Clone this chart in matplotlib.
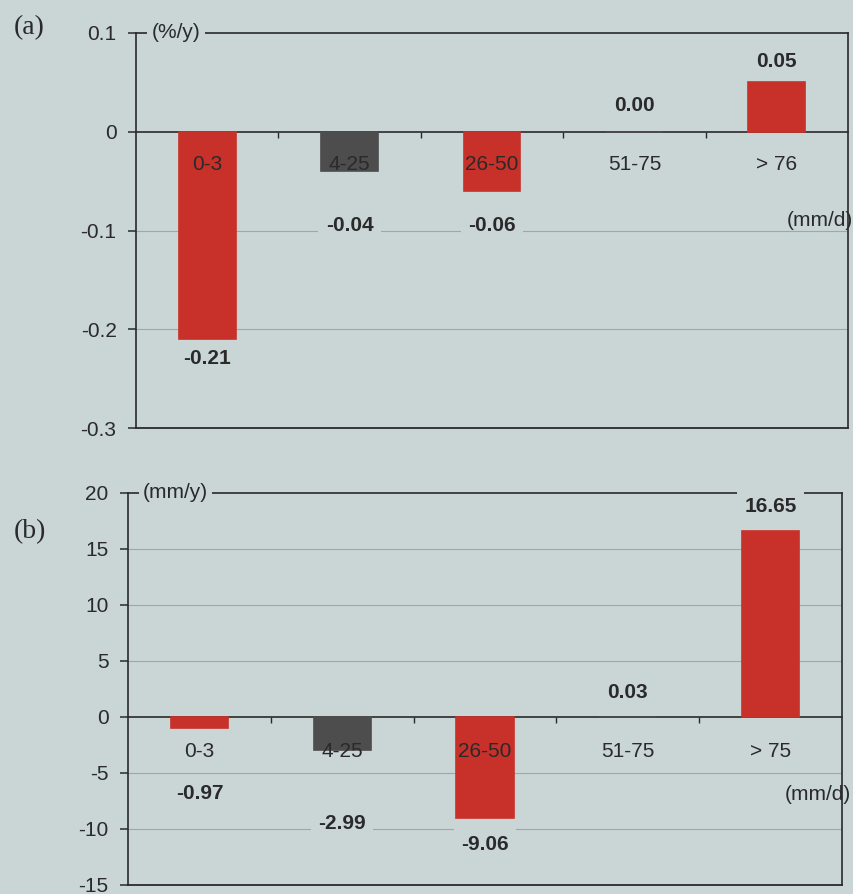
import matplotlib
matplotlib.use("Agg")
import matplotlib.pyplot as plt

# ---- data -------------------------------------------------------------
cats_a = ["0-3", "4-25", "26-50", "51-75", "> 76"]
vals_a = [-0.21, -0.04, -0.06, 0.00, 0.05]
ticks_a = [0.1, 0, -0.1, -0.2, -0.3]
tick_labels_a = ["0.1", "0", "-0.1", "-0.2", "-0.3"]

cats_b = ["0-3", "4-25", "26-50", "51-75", "> 75"]
vals_b = [-0.97, -2.99, -9.06, 0.03, 16.65]
ticks_b = [20, 15, 10, 5, 0, -5, -10, -15]
tick_labels_b = ["20", "15", "10", "5", "0", "-5", "-10", "-15"]

bar_kinds = ["red", "grey", "red", "grey", "red"]

# label placement (data units)
value_label_y_a = [-0.230, -0.095, -0.095, 0.027, 0.071]
cat_label_y_a = -0.033
value_label_y_b = [-6.8, -9.55, -11.4, 2.2, 18.75]
cat_label_y_b = -3.1

# ---- style ------------------------------------------------------------
BG = "#cad5d6"
RED = "#c8302a"
GREY = "#4d4d4d"
INK = "#2a2a2a"
GRID = "#9fa8a8"
COLORS = {"red": RED, "grey": GREY}
FS = 15

plt.rcParams["font.family"] = ["Liberation Sans", "DejaVu Sans"]

fig = plt.figure(figsize=(8.54, 8.94), dpi=100, facecolor=BG)


def panel(rect, cats, vals, ticks, tick_labels, unit, val_y, cat_y,
          unit_x_pos, x_unit_y, x_unit_x):
    ax = fig.add_axes(rect, facecolor=BG)
    x = list(range(len(cats)))
    cols = [COLORS[k] for k in bar_kinds]
    ax.bar(x, vals, width=0.4, color=cols, edgecolor=cols, linewidth=1.2,
           zorder=3)
    ax.set_xlim(-0.5, len(cats) - 0.5)
    ax.set_ylim(ticks[-1], ticks[0])

    ax.set_yticks(ticks)
    ax.set_yticklabels(tick_labels)
    ax.tick_params(axis="y", direction="out", length=6, width=1.1,
                   color=INK, labelcolor=INK, labelsize=FS, pad=8)

    # gridlines for the interior ticks
    for t in ticks[1:-1]:
        if t != 0:
            ax.axhline(t, color=GRID, lw=0.8, zorder=1)

    # category axis crossing at zero with separator ticks
    ax.spines["bottom"].set_position(("data", 0))
    ax.set_xticks([i + 0.5 for i in range(len(cats) - 1)])
    ax.set_xticklabels([])
    ax.tick_params(axis="x", direction="out", length=4, width=1.0,
                   color=INK)
    ax.axhline(ticks[-1], color=INK, lw=1.3, zorder=2.6, clip_on=False)

    for s in ["left", "top", "right", "bottom"]:
        ax.spines[s].set_color(INK)
        ax.spines[s].set_linewidth(1.2)
    ax.spines["bottom"].set_zorder(2.7)

    for i, c in enumerate(cats):
        ax.text(i, cat_y, c, ha="center", va="center", fontsize=FS,
                color=INK, zorder=6)

    box = dict(boxstyle="square,pad=0.35", facecolor=BG, edgecolor="none")
    for i, v in enumerate(vals):
        ax.text(i, val_y[i], f"{v:.2f}", ha="center", va="center",
                fontsize=FS, fontweight="bold", color=INK, zorder=5,
                bbox=box)

    ax.text(unit_x_pos, 1.0, unit, transform=ax.transAxes, ha="left",
            va="center", fontsize=FS, color=INK, zorder=5, clip_on=False,
            bbox=dict(boxstyle="square,pad=0.2", facecolor=BG,
                      edgecolor="none"))
    ax.text(x_unit_x, x_unit_y, "(mm/d)",
            transform=ax.get_yaxis_transform(), ha="right", va="center",
            fontsize=FS, color=INK, zorder=6, clip_on=False)
    return ax


ax_a = panel([136 / 854, 1 - 428 / 894, 712 / 854, 395 / 894],
             cats_a, vals_a, ticks_a, tick_labels_a, "(%/y)",
             value_label_y_a, cat_label_y_a, 0.022, -0.090, 1.007)
ax_b = panel([128 / 854, 1 - 885 / 894, 714 / 854, 392 / 894],
             cats_b, vals_b, ticks_b, tick_labels_b, "(mm/y)",
             value_label_y_b, cat_label_y_b, 0.021, -6.96, 1.012)

fig.text(29 / 854, 1 - 28 / 894, "(a)", ha="center", va="center",
         fontsize=20, color=INK, family=["Liberation Serif", "DejaVu Serif"])
fig.text(30 / 854, 1 - 532 / 894, "(b)", ha="center", va="center",
         fontsize=20, color=INK, family=["Liberation Serif", "DejaVu Serif"])

fig.savefig("out.png", dpi=100, facecolor=BG)
